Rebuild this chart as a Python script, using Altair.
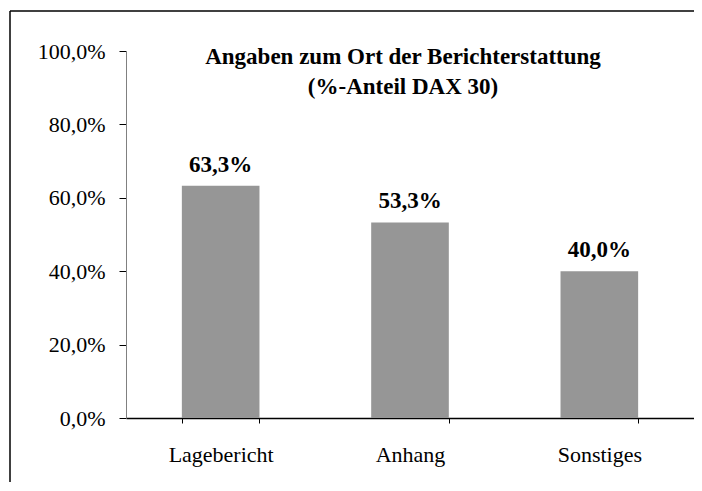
import altair as alt
import pandas as pd

categories = ["Lagebericht", "Anhang", "Sonstiges"]
values = [0.633, 0.533, 0.400]
title_lines = ["Angaben zum Ort der Berichterstattung", "(%-Anteil DAX 30)"]
y_ticks = [0.0, 0.2, 0.4, 0.6, 0.8, 1.0]

df = pd.DataFrame({"cat": categories, "val": values})

FONT = "Liberation Serif"
W, H = 568, 367

base = alt.Chart(df).encode(
    x=alt.X("cat:N", sort=categories, title=None,
            scale=alt.Scale(paddingInner=0.59, paddingOuter=0.295),
            axis=alt.Axis(labelAngle=0, labelFont=FONT, labelFontSize=22, labelColor="black",
                          labelPadding=21, tickSize=5, tickBand="extent", grid=False,
                          domainColor="black", tickColor="black", domainWidth=1.5)),
    y=alt.Y("val:Q", title=None,
            scale=alt.Scale(domain=[0, 1]),
            axis=alt.Axis(values=y_ticks, grid=False, labelFont=FONT, labelFontSize=22,
                          labelColor="black", labelPadding=14, tickSize=7,
                          labelExpr="replace(format(datum.value, '.1%'), '.', ',')",
                          domainColor="#808080", tickColor="black")),
)

bars = base.mark_bar(color="#969696")
labels = base.transform_calculate(
    lab="replace(format(datum.val, '.1%'), '.', ',')"
).mark_text(font=FONT, fontSize=23, fontWeight="bold", dy=-14, baseline="alphabetic",
            color="black").encode(text="lab:N")

one = alt.Data(values=[{"t": "\n".join(title_lines)}])
left_border = alt.Chart(one).mark_rule(color="black", strokeWidth=1.5).encode(
    x=alt.value(-116), y=alt.value(-40), y2=alt.value(H + 64))
top_border = alt.Chart(one).mark_rule(color="black", strokeWidth=1.5).encode(
    x=alt.value(-116), x2=alt.value(W), y=alt.value(-40))
cover = alt.Chart(one).mark_rule(color="white", strokeWidth=2.5).encode(
    x=alt.value(1), x2=alt.value(W), y=alt.value(0))
title = alt.Chart(one).mark_text(
    font=FONT, fontSize=23, fontWeight="bold", color="black", align="center",
    baseline="top", lineBreak="\n", lineHeight=30
).encode(x=alt.value(W / 2 - 7), y=alt.value(-5), text="t:N")

chart = alt.layer(left_border, top_border, bars, cover, labels, title).properties(
    width=W, height=H,
    autosize=alt.AutoSizeParams(type="none"),
    padding={"left": 118, "top": 43, "right": 0, "bottom": 65},
).configure(background="white", view=alt.ViewConfig(stroke="transparent", strokeWidth=0))

chart.save("out.html", embed_options={"renderer": "svg", "actions": False})
